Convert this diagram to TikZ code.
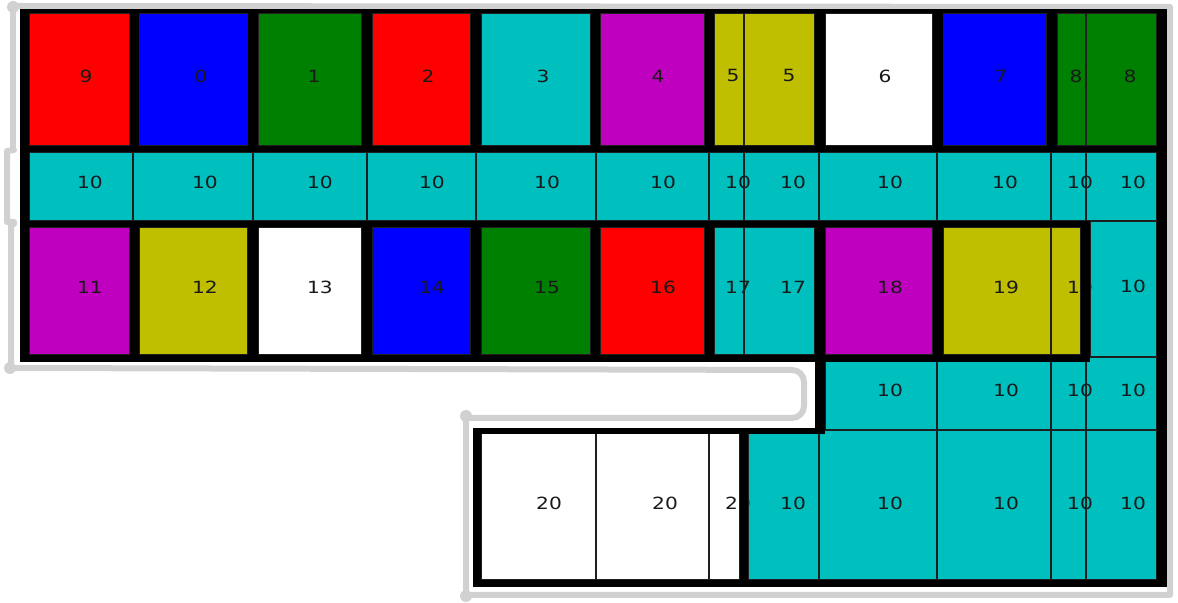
\documentclass[tikz,border=0pt]{standalone}
\usepackage{fontspec}
\setmainfont{DejaVu Sans}
\definecolor{cred}{rgb}{1,0,0}
\definecolor{cblue}{rgb}{0,0,1}
\definecolor{cgreen}{rgb}{0,0.5,0}
\definecolor{ccyan}{rgb}{0,0.75,0.75}
\definecolor{cmag}{rgb}{0.75,0,0.75}
\definecolor{cyel}{rgb}{0.75,0.75,0}
\definecolor{cwhite}{rgb}{1,1,1}
\definecolor{cgrey}{rgb}{0.82,0.82,0.82}
\newcommand\cellsdata{%
% row 1
\C{29}{13}{130}{146}{cred}{9}{86}{76}{a1}%
\C{139}{13}{248}{146}{cblue}{0}{201}{76}{a2}%
\C{258}{13}{362}{146}{cgreen}{1}{314}{76}{a3}%
\C{372}{13}{471}{146}{cred}{2}{428}{76}{a4}%
\C{481}{13}{591}{146}{ccyan}{3}{543}{76}{a5}%
\C{600}{13}{705}{146}{cmag}{4}{658}{76}{a6}%
\C{714}{13}{744}{146}{cyel}{5}{733}{76}{a7}%
\C{744}{13}{815}{146}{cyel}{5}{789}{76}{a8}%
\C{825}{13}{933}{146}{cwhite}{6}{885}{76}{a9}%
\C{943}{13}{1047}{146}{cblue}{7}{1001}{76}{a10}%
\C{1057}{13}{1086}{146}{cgreen}{8}{1076}{76}{a11}%
\C{1086}{13}{1157}{146}{cgreen}{8}{1130}{76}{a12}%
% row 2
\C{29}{152}{133}{221}{ccyan}{10}{90}{182}{b1}%
\C{133}{152}{253}{221}{ccyan}{10}{205}{182}{b2}%
\C{253}{152}{367}{221}{ccyan}{10}{320}{182}{b3}%
\C{367}{152}{476}{221}{ccyan}{10}{432}{182}{b4}%
\C{476}{152}{596}{221}{ccyan}{10}{547}{182}{b5}%
\C{596}{152}{709}{221}{ccyan}{10}{663}{182}{b6}%
\C{709}{152}{744}{221}{ccyan}{10}{738}{182}{b7}%
\C{744}{152}{819}{221}{ccyan}{10}{793}{182}{b8}%
\C{819}{152}{937}{221}{ccyan}{10}{890}{182}{b9}%
\C{937}{152}{1051}{221}{ccyan}{10}{1005}{182}{b10}%
\C{1051}{152}{1086}{221}{ccyan}{10}{1080}{182}{b11}%
\C{1086}{152}{1157}{221}{ccyan}{10}{1133}{182}{b12}%
% row 3
\C{29}{227}{130}{355}{cmag}{11}{90}{287}{c1}%
\C{139}{227}{248}{355}{cyel}{12}{205}{287}{c2}%
\C{258}{227}{362}{355}{cwhite}{13}{320}{287}{c3}%
\C{372}{227}{471}{355}{cblue}{14}{432}{287}{c4}%
\C{481}{227}{591}{355}{cgreen}{15}{547}{287}{c5}%
\C{600}{227}{705}{355}{cred}{16}{663}{287}{c6}%
\C{714}{227}{744}{355}{ccyan}{17}{738}{287}{c7}%
\C{744}{227}{815}{355}{ccyan}{17}{793}{287}{c8}%
\C{825}{227}{933}{355}{cmag}{18}{890}{287}{c9}%
\C{943}{227}{1051}{355}{cyel}{19}{1006}{287}{c10}%
\C{1051}{227}{1081}{355}{cyel}{19}{1080}{287}{c11}%
\C{1090}{221}{1157}{357}{ccyan}{10}{1133}{286}{c12}%
% row 4
\C{825}{357}{937}{430}{ccyan}{10}{890}{390}{d1}%
\C{937}{357}{1051}{430}{ccyan}{10}{1006}{390}{d2}%
\C{1051}{357}{1086}{430}{ccyan}{10}{1080}{390}{d3}%
\C{1086}{357}{1157}{430}{ccyan}{10}{1133}{390}{d4}%
% row 5
\C{481}{430}{596}{580}{cwhite}{20}{549}{503}{e1}%
\C{596}{430}{709}{580}{cwhite}{20}{665}{503}{e2}%
\C{709}{430}{740}{580}{cwhite}{20}{738}{503}{e3}%
\C{748}{430}{819}{580}{ccyan}{10}{793}{503}{e4}%
\C{819}{430}{937}{580}{ccyan}{10}{890}{503}{e5}%
\C{937}{430}{1051}{580}{ccyan}{10}{1006}{503}{e6}%
\C{1051}{430}{1086}{580}{ccyan}{10}{1080}{503}{e7}%
\C{1086}{430}{1157}{580}{ccyan}{10}{1133}{503}{e8}%
}
\begin{document}
\begin{tikzpicture}[x=0.5pt,y=-0.5pt,
  lbl/.style={inner sep=0pt, font=\fontsize{8.4}{8.4}\selectfont, text=black!90},
  thinline/.style={draw=black!88, line width=1pt},
  bar/.style={fill=black},
  outline/.style={draw=cgrey, line width=3pt, line cap=round, line join=round}]
\useasboundingbox (0,0) rectangle (1178,603);
% grey outline
\draw[outline] (13,6) -- (1170,7) -- (1170,595) -- (466,595) -- (466,418)
  [rounded corners=6pt] -- (804,418) -- (804,370) [sharp corners] -- (11,368) -- (11,225) -- (14,224);
\draw[outline] (14,222) -- (7,222) -- (7,151) -- (14,150);
\draw[outline] (13,148) -- (13,6);
\fill[cgrey] (13,7) circle (3pt) (10,368) circle (3pt) (466,416) circle (3pt) (466,596) circle (3pt);
% fills
\def\C#1#2#3#4#5#6#7#8#9{\fill[#5] (#1,#2) rectangle (#3,#4);}
\cellsdata
% labels
\def\C#1#2#3#4#5#6#7#8#9{\node[lbl] (#9) at (#7,#8) {\scalebox{1.2}[1]{#6}};}
\cellsdata
% thin borders
\def\C#1#2#3#4#5#6#7#8#9{\draw[thinline] (#1,#2) rectangle (#3,#4);}
\cellsdata
% thick region borders
\fill[bar] (20,9) rectangle (1167,13);
\fill[bar] (20,9) rectangle (29,362);
\fill[bar] (1157,9) rectangle (1167,587);
\fill[bar] (20,146) rectangle (1157,152);
\foreach \xa/\xb in {130/139,248/258,362/372,471/481,591/600,705/714,815/825,933/943,1047/1057}
  \fill[bar] (\xa,9) rectangle (\xb,152);
\fill[bar] (20,221) rectangle (1090,227);
\foreach \xa/\xb in {130/139,248/258,362/372,471/481,591/600,705/714,933/943,1081/1090}
  \fill[bar] (\xa,221) rectangle (\xb,362);
\fill[bar] (815,221) rectangle (825,434);
\fill[bar] (20,355) rectangle (1090,362);
\fill[bar] (473,428) rectangle (825,434);
\fill[bar] (473,428) rectangle (481,587);
\fill[bar] (740,428) rectangle (748,587);
\fill[bar] (473,580) rectangle (1167,587);
\end{tikzpicture}
\end{document}
